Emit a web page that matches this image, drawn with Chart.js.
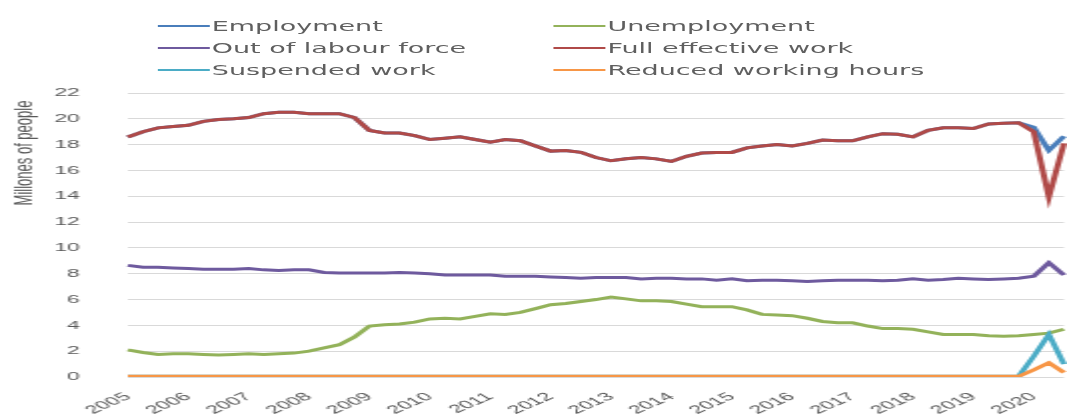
<!DOCTYPE html>
<html>
<head>
<meta charset="utf-8">
<script src="https://cdn.jsdelivr.net/npm/chart.js@4.4.1/dist/chart.umd.min.js"></script>
<style>
  html, body { margin: 0; background: #fff; overflow: hidden; }
  /* chart is laid out narrow and stretched sideways, like the exported figure */
  #stage { position: relative; width: 534px; height: 416px; transform: scaleX(1.998); transform-origin: 0 0; }
  #plot { position: absolute; left: 0; top: 0; width: 534px; height: 416px; }
  #legend { position: absolute; left: 0; top: 0; width: 534px; height: 90px;
            font-family: "DejaVu Sans", sans-serif; font-size: 13.5px; color: #5f5f5f; }
  .item { position: absolute; display: flex; align-items: center; white-space: nowrap; height: 18px; }
  .swatch { display: inline-block; width: 26px; height: 2.5px; margin-right: 1.5px; }
</style>
</head>
<body>
<div id="stage">
  <div id="plot"><canvas id="grafico"></canvas></div>
  <div id="legend"></div>
</div>
<script>
const quarters = [
  '2005Q1','2005Q2','2005Q3','2005Q4','2006Q1','2006Q2','2006Q3','2006Q4',
  '2007Q1','2007Q2','2007Q3','2007Q4','2008Q1','2008Q2','2008Q3','2008Q4',
  '2009Q1','2009Q2','2009Q3','2009Q4','2010Q1','2010Q2','2010Q3','2010Q4',
  '2011Q1','2011Q2','2011Q3','2011Q4','2012Q1','2012Q2','2012Q3','2012Q4',
  '2013Q1','2013Q2','2013Q3','2013Q4','2014Q1','2014Q2','2014Q3','2014Q4',
  '2015Q1','2015Q2','2015Q3','2015Q4','2016Q1','2016Q2','2016Q3','2016Q4',
  '2017Q1','2017Q2','2017Q3','2017Q4','2018Q1','2018Q2','2018Q3','2018Q4',
  '2019Q1','2019Q2','2019Q3','2019Q4','2020Q1','2020Q2','2020Q3'
];

// millions of people, quarterly
const empleo = [
  18.6, 19.0, 19.3, 19.4, 19.5, 19.8, 19.95, 20.0,
  20.1, 20.4, 20.5, 20.5, 20.4, 20.4, 20.4, 20.1,
  19.1, 18.9, 18.9, 18.7, 18.4, 18.5, 18.6, 18.4,
  18.2, 18.4, 18.3, 17.9, 17.5, 17.55, 17.4, 17.0,
  16.75, 16.9, 17.0, 16.9, 16.7, 17.1, 17.35, 17.4,
  17.4, 17.75, 17.9, 18.0, 17.9, 18.1, 18.35, 18.3,
  18.3, 18.6, 18.85, 18.8, 18.6, 19.1, 19.3, 19.3,
  19.25, 19.6, 19.65, 19.7, 19.35, 17.55, 18.65
];
const paro = [
  2.1, 1.9, 1.75, 1.8, 1.8, 1.75, 1.7, 1.75,
  1.8, 1.75, 1.8, 1.85, 2.0, 2.25, 2.5, 3.1,
  3.95, 4.05, 4.1, 4.25, 4.5, 4.55, 4.5, 4.7,
  4.9, 4.85, 5.0, 5.3, 5.6, 5.7, 5.85, 6.0,
  6.2, 6.05, 5.9, 5.9, 5.85, 5.65, 5.45, 5.45,
  5.45, 5.2, 4.85, 4.8, 4.75, 4.55, 4.3, 4.2,
  4.2, 3.95, 3.75, 3.75, 3.7, 3.5, 3.3, 3.3,
  3.3, 3.2, 3.15, 3.2, 3.3, 3.4, 3.7
];
const inactivos = [
  8.65, 8.5, 8.5, 8.45, 8.4, 8.35, 8.35, 8.35,
  8.4, 8.3, 8.25, 8.3, 8.3, 8.1, 8.05, 8.05,
  8.05, 8.05, 8.1, 8.05, 8.0, 7.9, 7.9, 7.9,
  7.9, 7.8, 7.8, 7.8, 7.75, 7.7, 7.65, 7.7,
  7.7, 7.7, 7.6, 7.65, 7.65, 7.6, 7.6, 7.5,
  7.6, 7.45, 7.5, 7.5, 7.45, 7.4, 7.45, 7.5,
  7.5, 7.5, 7.45, 7.5, 7.6, 7.5, 7.55, 7.65,
  7.6, 7.55, 7.6, 7.65, 7.8, 8.85, 7.9
];
const trabajoEfectivo = [
  18.6, 19.0, 19.3, 19.4, 19.5, 19.8, 19.95, 20.0,
  20.1, 20.4, 20.5, 20.5, 20.4, 20.4, 20.4, 20.1,
  19.1, 18.9, 18.9, 18.7, 18.4, 18.5, 18.6, 18.4,
  18.2, 18.4, 18.3, 17.9, 17.5, 17.55, 17.4, 17.0,
  16.75, 16.9, 17.0, 16.9, 16.7, 17.1, 17.35, 17.4,
  17.4, 17.75, 17.9, 18.0, 17.9, 18.1, 18.35, 18.3,
  18.3, 18.6, 18.85, 18.8, 18.6, 19.1, 19.3, 19.3,
  19.25, 19.6, 19.65, 19.7, 19.0, 13.95, 18.1
];
const suspendidos = [
  0.05, 0.05, 0.05, 0.05, 0.05, 0.05, 0.05, 0.05,
  0.05, 0.05, 0.05, 0.05, 0.05, 0.05, 0.05, 0.05,
  0.05, 0.05, 0.05, 0.05, 0.05, 0.05, 0.05, 0.05,
  0.05, 0.05, 0.05, 0.05, 0.05, 0.05, 0.05, 0.05,
  0.05, 0.05, 0.05, 0.05, 0.05, 0.05, 0.05, 0.05,
  0.05, 0.05, 0.05, 0.05, 0.05, 0.05, 0.05, 0.05,
  0.05, 0.05, 0.05, 0.05, 0.05, 0.05, 0.05, 0.05,
  0.05, 0.05, 0.05, 0.05, 1.6, 3.3, 1.0
];
const jornadaReducida = [
  0.05, 0.05, 0.05, 0.05, 0.05, 0.05, 0.05, 0.05,
  0.05, 0.05, 0.05, 0.05, 0.05, 0.05, 0.05, 0.05,
  0.05, 0.05, 0.05, 0.05, 0.05, 0.05, 0.05, 0.05,
  0.05, 0.05, 0.05, 0.05, 0.05, 0.05, 0.05, 0.05,
  0.05, 0.05, 0.05, 0.05, 0.05, 0.05, 0.05, 0.05,
  0.05, 0.05, 0.05, 0.05, 0.05, 0.05, 0.05, 0.05,
  0.05, 0.05, 0.05, 0.05, 0.05, 0.05, 0.05, 0.05,
  0.05, 0.05, 0.05, 0.05, 0.55, 1.1, 0.35
];

const series = [
  { label: 'Employment', data: empleo, color: '#4a7ebb' },
  { label: 'Unemployment', data: paro, color: '#93b25a' },
  { label: 'Out of labour force', data: inactivos, color: '#6e5a9e' },
  { label: 'Full effective work', data: trabajoEfectivo, color: '#b04a48' },
  { label: 'Suspended work', data: suspendidos, color: '#4bacc6' },
  { label: 'Reduced working hours', data: jornadaReducida, color: '#f79646' }
];

const yTicks = [0, 2, 4, 6, 8, 10, 12, 14, 16, 18, 20, 22];
const tituloY = 'Millones of people';
const gris = '#595959';

// vertical axis title, sits high on the left instead of centred
const tituloEje = {
  id: 'tituloEje',
  afterDraw(chart) {
    const ctx = chart.ctx;
    ctx.save();
    ctx.translate(12, 153);
    ctx.rotate(-Math.PI / 2);
    ctx.font = '13px "Liberation Sans", Arial, sans-serif';
    ctx.fillStyle = gris;
    ctx.textAlign = 'center';
    ctx.textBaseline = 'middle';
    ctx.fillText(tituloY, 0, 0);
    ctx.restore();
  }
};

const ctx = document.getElementById('grafico').getContext('2d');

const chart = new Chart(ctx, {
  type: 'line',
  data: {
    labels: quarters,
    datasets: series.map((s, i) => ({
      label: s.label,
      data: s.data,
      borderColor: s.color,
      backgroundColor: s.color,
      borderWidth: 3,
      pointRadius: 0,
      tension: 0,
      fill: false,
      order: series.length - i // later series drawn on top
    }))
  },
  options: {
    responsive: true,
    maintainAspectRatio: false,
    animation: false,
    layout: { padding: { top: 93, right: 1, bottom: 0, left: 0 } },
    scales: {
      x: {
        type: 'category',
        offset: false,
        afterFit: (s) => {
          s.height = 39;
          s.paddingLeft = 0;
          s.paddingRight = 0;
        },
        grid: { display: false, drawTicks: false },
        border: { display: false },
        ticks: {
          autoSkip: false,
          minRotation: 40,
          maxRotation: 40,
          padding: 13,
          color: gris,
          font: { family: 'Liberation Sans', size: 11.5 },
          callback: (v, i) => quarters[i].endsWith('Q1') ? quarters[i].slice(0, 4) : ''
        }
      },
      y: {
        min: 0,
        max: 22,
        afterFit: (s) => { s.width = 64; },
        afterBuildTicks: (s) => { s.ticks = yTicks.map(v => ({ value: v })); },
        grid: { color: '#d9d9d9', lineWidth: 1, drawTicks: false },
        border: { display: false },
        ticks: {
          padding: 24,
          color: gris,
          font: { family: 'Liberation Sans', size: 11.5 }
        }
      }
    },
    plugins: {
      legend: { display: false },
      tooltip: { enabled: false }
    }
  },
  plugins: [tituloEje]
});

// legend in two columns, three rows
const leyenda = document.getElementById('legend');
chart.data.datasets.forEach((ds, i) => {
  const item = document.createElement('div');
  item.className = 'item';
  item.style.left = (i % 2 === 0 ? 78.5 : 276.5) + 'px';
  item.style.top = (26 + Math.floor(i / 2) * 22 - 9) + 'px';
  const linea = document.createElement('span');
  linea.className = 'swatch';
  linea.style.background = ds.borderColor;
  item.appendChild(linea);
  item.appendChild(document.createTextNode(ds.label));
  leyenda.appendChild(item);
});
</script>
</body>
</html>
